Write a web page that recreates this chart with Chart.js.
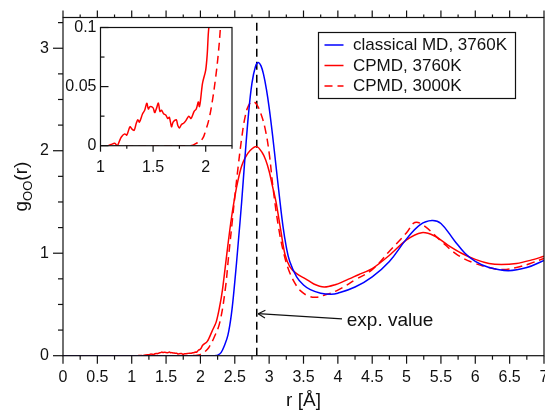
<!DOCTYPE html>
<html>
<head>
<meta charset="utf-8">
<title>g_OO(r)</title>
<script src="https://cdn.jsdelivr.net/npm/chart.js@4.4.0/dist/chart.umd.min.js"></script>
<style>
  body { margin: 0; background: #fff; overflow: hidden; }
  #wrap { position: relative; width: 545px; height: 412px; }
  canvas { position: absolute; display: block; }
  #main { left: 0; top: 0; }
  #inset { left: 64px; top: 14px; }
</style>
</head>
<body>
<div id="wrap">
  <canvas id="main" width="545" height="412"></canvas>
  <canvas id="inset" width="175" height="166"></canvas>
</div>
<script>
// ---- data: r in Angstrom, g_OO(r)
var mdR = [0, 2.0, 2.2, 2.25, 2.3, 2.35, 2.4, 2.45, 2.5, 2.55, 2.6, 2.65, 2.7, 2.75, 2.8, 2.84, 2.88, 2.92, 2.96, 3.0,
  3.05, 3.1, 3.15, 3.2, 3.25, 3.3, 3.4, 3.5, 3.6, 3.75, 3.9, 4.0, 4.25, 4.5, 4.75, 5.0, 5.2, 5.37, 5.5, 5.7,
  5.85, 6.0, 6.2, 6.48, 6.75, 7.0];
var mdG = [0, 0, 0, 0.005, 0.03, 0.1, 0.2, 0.4, 0.72, 1.1, 1.5, 1.95, 2.36, 2.66, 2.82, 2.86, 2.83, 2.74, 2.6, 2.42,
  2.15, 1.85, 1.55, 1.27, 1.06, 0.92, 0.77, 0.69, 0.645, 0.61, 0.6, 0.61, 0.67, 0.77, 0.92, 1.14, 1.28, 1.32, 1.29, 1.12,
  1.0, 0.92, 0.86, 0.83, 0.86, 0.93];

var cp3760R = [0, 1.07, 1.1, 1.135, 1.16, 1.18, 1.2, 1.23, 1.25, 1.28, 1.3, 1.32, 1.34, 1.355, 1.37, 1.4, 1.42, 1.44, 1.455, 1.47,
  1.5, 1.515, 1.53, 1.55, 1.565, 1.58, 1.6, 1.62, 1.64, 1.655, 1.675, 1.69, 1.72, 1.735, 1.75, 1.77, 1.79, 1.81, 1.84, 1.86,
  1.89, 1.91, 1.93, 1.94, 1.95, 1.97, 2.0, 2.015, 2.03, 2.1, 2.17, 2.23, 2.28, 2.32, 2.38, 2.44, 2.5, 2.55, 2.6, 2.65,
  2.72, 2.82, 2.9, 2.95, 3.0, 3.05, 3.1, 3.17, 3.23, 3.3, 3.4, 3.53, 3.65, 3.8, 3.95, 4.1, 4.3, 4.5, 4.75, 5.0,
  5.22, 5.4, 5.6, 5.8, 6.0, 6.2, 6.38, 6.6, 6.8, 7.0];
var cp3760G = [0, 0, 0.001, 0.002, 0.0, 0.004, 0.0076, 0.010, 0.009, 0.016, 0.014, 0.013, 0.019, 0.022, 0.020, 0.027, 0.030, 0.036, 0.031, 0.033,
  0.032, 0.028, 0.031, 0.036, 0.029, 0.030, 0.027, 0.026, 0.023, 0.024, 0.016, 0.020, 0.022, 0.017, 0.015, 0.018, 0.019, 0.021, 0.025, 0.023,
  0.029, 0.031, 0.037, 0.033, 0.038, 0.053, 0.064, 0.078, 0.1, 0.14, 0.24, 0.33, 0.48, 0.64, 0.97, 1.29, 1.55, 1.72, 1.85, 1.93,
  2.0, 2.04, 1.98, 1.91, 1.8, 1.65, 1.5, 1.22, 0.99, 0.87, 0.8, 0.75, 0.7, 0.67, 0.69, 0.73, 0.79, 0.85, 0.98, 1.13,
  1.2, 1.17, 1.08, 1.0, 0.94, 0.9, 0.89, 0.9, 0.93, 0.97];

var cp3000R = [0, 1.85, 1.92, 1.97, 2.0, 2.03, 2.06, 2.095, 2.12, 2.14, 2.2, 2.28, 2.36, 2.41, 2.46, 2.5, 2.55, 2.6, 2.65, 2.7,
  2.76, 2.82, 2.88, 2.94, 3.0, 3.06, 3.14, 3.22, 3.3, 3.4, 3.48, 3.58, 3.68, 3.8, 4.0, 4.25, 4.5, 4.75, 5.0, 5.12,
  5.25, 5.5, 5.75, 6.0, 6.2, 6.4, 6.6, 6.8, 7.0];
var cp3000G = [0, 0, 0.0025, 0.006, 0.013, 0.022, 0.036, 0.058, 0.078, 0.1, 0.18, 0.32, 0.64, 0.97, 1.29, 1.55, 1.85, 2.12, 2.33, 2.44,
  2.48, 2.45, 2.36, 2.22, 1.98, 1.62, 1.24, 0.98, 0.81, 0.68, 0.62, 0.58, 0.57, 0.59, 0.64, 0.74, 0.84, 1.02, 1.2, 1.3,
  1.27, 1.12, 0.98, 0.9, 0.86, 0.84, 0.86, 0.9, 0.95];

var seriesNames = ['classical MD, 3760K', 'CPMD, 3760K', 'CPMD, 3000K'];

// experimental first-peak position and the arrow pointing at it
var expR = 2.82;
var expLabel = 'exp. value';
var arrowTip = [2.84, 0.41];
var arrowTail = [4.06, 0.36];
var labelAt = [4.13, 0.29];

// axes
var xRange = [0, 7], yRange = [0, 3.3];
var insetX = [1, 2.25], insetY = [0, 0.1];

var FONT = "'Liberation Sans', Arial, sans-serif";
var INK = '#111';

function pts(r, g) {
  var out = [];
  for (var i = 0; i < r.length; i++) out.push({ x: r[i], y: g[i] });
  return out;
}
function near(v, step) {
  var q = v / step;
  return Math.abs(q - Math.round(q)) < 1e-6;
}
function fmt(v) {
  return String(Math.round(v * 1000) / 1000);
}
function line(ctx, x1, y1, x2, y2) {
  ctx.beginPath(); ctx.moveTo(x1, y1); ctx.lineTo(x2, y2); ctx.stroke();
}

function curves() {
  return [
    { label: seriesNames[0], data: pts(mdR, mdG), borderColor: '#0000ff', borderWidth: 1.5, tension: 0.4 },
    { label: seriesNames[1], data: pts(cp3760R, cp3760G), borderColor: '#ff0000', borderWidth: 1.5, tension: 0.3 },
    { label: seriesNames[2], data: pts(cp3000R, cp3000G), borderColor: '#ff0000', borderWidth: 1.5, tension: 0.4, borderDash: [8, 5] }
  ];
}

// ---- main chart decorations
var mainDeco = {
  id: 'mainDeco',
  afterDraw: function (chart) {
    var ctx = chart.ctx, a = chart.chartArea, x = chart.scales.x, y = chart.scales.y;
    ctx.save();
    ctx.strokeStyle = INK;
    ctx.lineWidth = 1.2;
    ctx.strokeRect(a.left, a.top, a.right - a.left, a.bottom - a.top);
    x.ticks.forEach(function (t) {
      var px = x.getPixelForValue(t.value);
      var big = near(t.value, 0.5);
      line(ctx, px, a.bottom, px, a.bottom + (big ? 8 : 4));
      line(ctx, px, a.top, px, a.top - (big ? 7 : 3));
    });
    y.ticks.forEach(function (t) {
      var py = y.getPixelForValue(t.value);
      line(ctx, a.left, py, a.left - (near(t.value, 1) ? 10 : 5), py);
    });

    // y title with subscript
    ctx.fillStyle = INK;
    ctx.translate(27, (a.top + a.bottom) / 2);
    ctx.rotate(-Math.PI / 2);
    var big = '19px ' + FONT, small = '13px ' + FONT;
    ctx.font = big;
    var wg = ctx.measureText('g').width, wr = ctx.measureText('(r)').width;
    ctx.font = small;
    var wo = ctx.measureText('OO').width;
    var x0 = -(wg + wo + wr) / 2;
    ctx.textBaseline = 'alphabetic';
    ctx.font = big; ctx.fillText('g', x0, 0);
    ctx.font = small; ctx.fillText('OO', x0 + wg, 5);
    ctx.font = big; ctx.fillText('(r)', x0 + wg + wo, 0);
    ctx.restore();

    // arrow + label
    ctx.save();
    ctx.strokeStyle = INK;
    ctx.fillStyle = INK;
    ctx.lineWidth = 1.2;
    var tx = x.getPixelForValue(arrowTip[0]), ty = y.getPixelForValue(arrowTip[1]);
    var sx = x.getPixelForValue(arrowTail[0]), sy = y.getPixelForValue(arrowTail[1]);
    line(ctx, sx, sy, tx, ty);
    var ang = Math.atan2(ty - sy, tx - sx);
    var hl = 8, hw = 0.5;
    line(ctx, tx, ty, tx - hl * Math.cos(ang - hw), ty - hl * Math.sin(ang - hw));
    line(ctx, tx, ty, tx - hl * Math.cos(ang + hw), ty - hl * Math.sin(ang + hw));
    ctx.font = '19px ' + FONT;
    ctx.textBaseline = 'alphabetic';
    ctx.fillText(expLabel, x.getPixelForValue(labelAt[0]), y.getPixelForValue(labelAt[1]));
    ctx.restore();

    // legend box
    ctx.save();
    var bx = 318.5, by = 32.5, bw = 197, bh = 66;
    ctx.fillStyle = '#fff';
    ctx.fillRect(bx, by, bw, bh);
    ctx.strokeStyle = INK;
    ctx.lineWidth = 1.2;
    ctx.strokeRect(bx, by, bw, bh);
    ctx.font = '17px ' + FONT;
    ctx.textBaseline = 'middle';
    chart.data.datasets.slice(0, 3).forEach(function (ds, i) {
      var ry = by + 12.5 + i * 20.5;
      ctx.strokeStyle = ds.borderColor;
      ctx.lineWidth = 1.5;
      ctx.setLineDash(ds.borderDash || []);
      line(ctx, bx + 6, ry, bx + 25, ry);
      ctx.setLineDash([]);
      ctx.fillStyle = INK;
      ctx.fillText(ds.label, bx + 34.5, ry + 0.5);
    });
    ctx.restore();
  }
};

var mainSets = curves();
mainSets.push({ label: 'exp', data: [{ x: expR, y: yRange[0] }, { x: expR, y: yRange[1] }],
  borderColor: '#000', borderWidth: 1.5, borderDash: [8, 5], tension: 0 });

new Chart(document.getElementById('main'), {
  type: 'line',
  data: { datasets: mainSets },
  options: {
    responsive: false,
    animation: false,
    devicePixelRatio: 1,
    layout: { padding: { top: 17.5, right: 1, left: 0, bottom: 0 } },
    elements: { point: { radius: 0 } },
    plugins: { legend: { display: false }, tooltip: { enabled: false } },
    scales: {
      x: {
        type: 'linear', min: xRange[0], max: xRange[1],
        afterFit: function (s) { s.height = 56.3; s.paddingLeft = 0; s.paddingRight = 0; },
        grid: { display: false, drawTicks: false },
        border: { display: false },
        ticks: {
          stepSize: 0.25, autoSkip: false, maxRotation: 0, padding: 12, color: INK,
          font: { family: FONT, size: 16 },
          callback: function (v) { return near(v, 0.5) ? fmt(v) : ''; }
        },
        title: { display: true, text: 'r [Å]', color: INK, font: { family: FONT, size: 19 }, padding: { top: 0, bottom: 0 } }
      },
      y: {
        type: 'linear', min: yRange[0], max: yRange[1],
        afterFit: function (s) { s.width = 63; s.paddingTop = 0; s.paddingBottom = 0; },
        grid: { display: false, drawTicks: false },
        border: { display: false },
        ticks: {
          stepSize: 0.25, includeBounds: false, autoSkip: false, padding: 14, color: INK,
          font: { family: FONT, size: 16 },
          callback: function (v) { return near(v, 1) ? fmt(v) : ''; }
        }
      }
    }
  },
  plugins: [mainDeco]
});

// ---- inset: zoom on the small pre-peak
var insetDeco = {
  id: 'insetDeco',
  beforeDatasetsDraw: function (chart) {
    var ctx = chart.ctx, a = chart.chartArea;
    ctx.save();
    ctx.fillStyle = '#fff';
    ctx.fillRect(a.left, a.top, a.right - a.left, a.bottom - a.top);
    ctx.restore();
  },
  afterDraw: function (chart) {
    var ctx = chart.ctx, a = chart.chartArea, x = chart.scales.x, y = chart.scales.y;
    ctx.save();
    ctx.strokeStyle = INK;
    ctx.lineWidth = 1.2;
    ctx.strokeRect(a.left, a.top, a.right - a.left, a.bottom - a.top);
    x.ticks.forEach(function (t) {
      var px = x.getPixelForValue(t.value);
      line(ctx, px, a.bottom, px, a.bottom + (near(t.value, 0.5) ? 6 : 3));
    });
    y.ticks.forEach(function (t) {
      var py = y.getPixelForValue(t.value);
      line(ctx, a.left, py, a.left + (near(t.value, 0.05) ? 8 : 4), py);
    });
    ctx.restore();
  }
};

var insetSets = curves().slice(1);

new Chart(document.getElementById('inset'), {
  type: 'line',
  data: { datasets: insetSets },
  options: {
    responsive: false,
    animation: false,
    devicePixelRatio: 1,
    layout: { padding: { top: 13.5, right: 7, left: 0, bottom: 0 } },
    elements: { point: { radius: 0 } },
    plugins: { legend: { display: false }, tooltip: { enabled: false } },
    scales: {
      x: {
        type: 'linear', min: insetX[0], max: insetX[1],
        afterFit: function (s) { s.height = 34.3; s.paddingLeft = 0; s.paddingRight = 0; },
        grid: { display: false, drawTicks: false },
        border: { display: false },
        ticks: {
          stepSize: 0.25, autoSkip: false, maxRotation: 0, padding: 12, color: INK,
          font: { family: FONT, size: 16 },
          callback: function (v) { return near(v, 0.5) ? fmt(v) : ''; }
        }
      },
      y: {
        type: 'linear', min: insetY[0], max: insetY[1],
        afterFit: function (s) { s.width = 36.5; s.paddingTop = 0; s.paddingBottom = 0; },
        grid: { display: false, drawTicks: false },
        border: { display: false },
        ticks: {
          stepSize: 0.025, autoSkip: false, padding: 4, color: INK,
          font: { family: FONT, size: 16 },
          callback: function (v) { return near(v, 0.05) ? fmt(v) : ''; }
        }
      }
    }
  },
  plugins: [insetDeco]
});
</script>
</body>
</html>
